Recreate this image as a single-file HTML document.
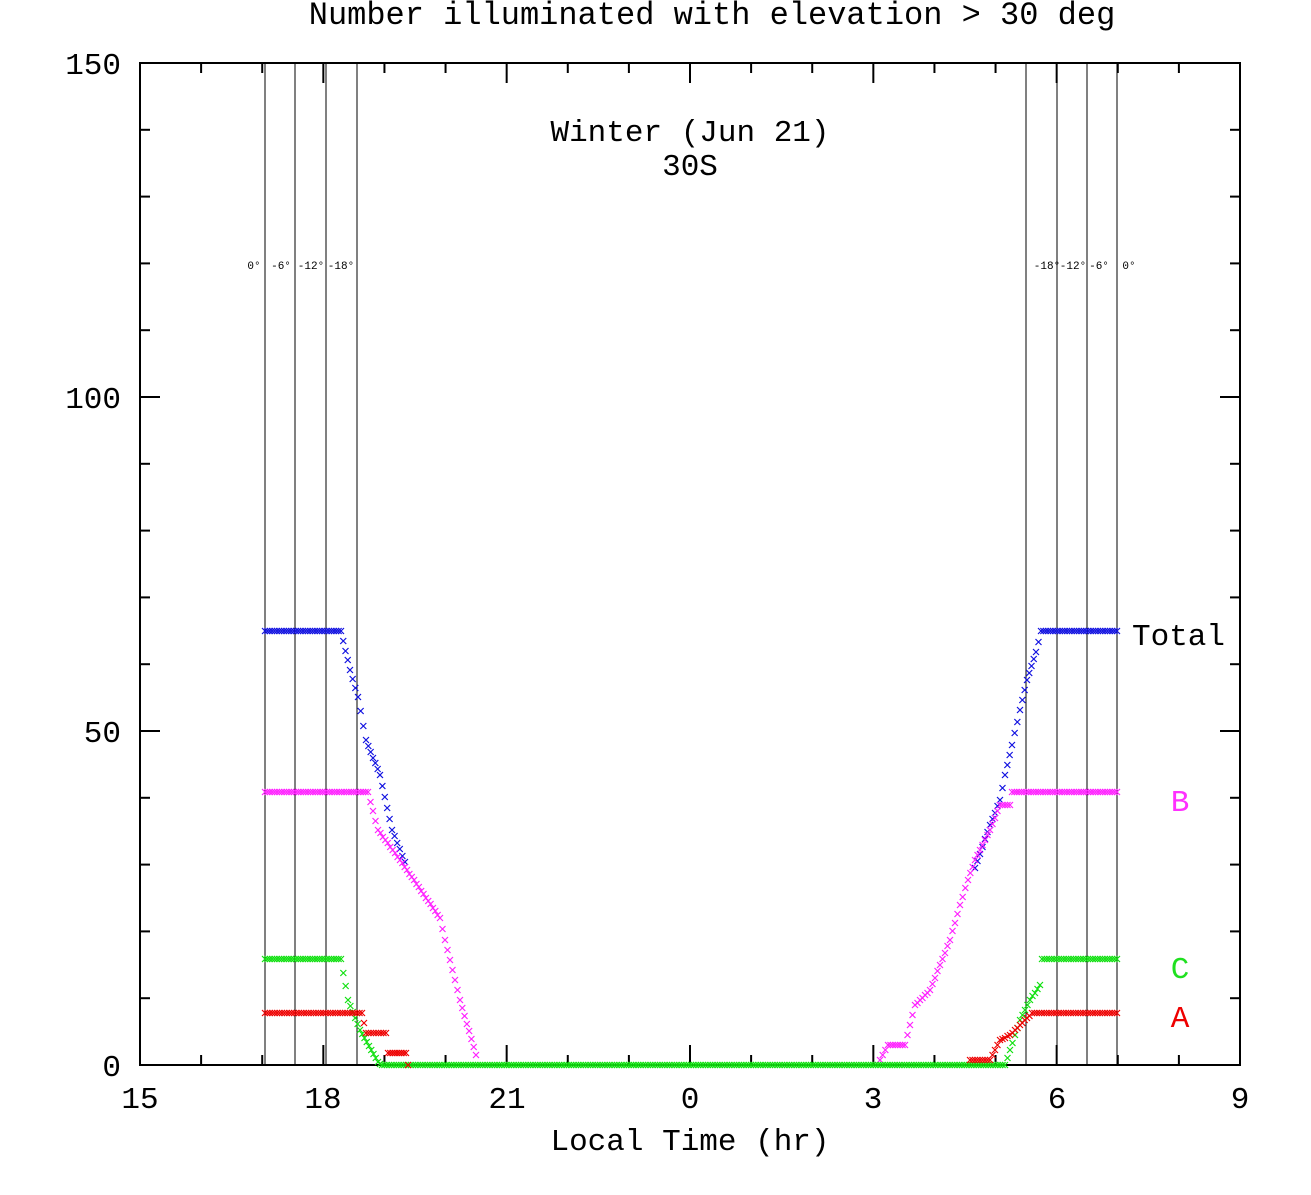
<!DOCTYPE html>
<html><head><meta charset="utf-8"><style>
body{margin:0;background:#fff}
svg{display:block}
text{font-family:"Liberation Mono",monospace}
</style></head><body>
<svg id="s" width="1311" height="1195" xmlns="http://www.w3.org/2000/svg">
<rect x="140" y="63" width="1100" height="1002" fill="none" stroke="#000" stroke-width="2"/>
<g stroke="#000" stroke-width="1">
<line x1="265" y1="63" x2="265" y2="1065"/><line x1="295" y1="63" x2="295" y2="1065"/>
<line x1="326" y1="63" x2="326" y2="1065"/><line x1="357" y1="63" x2="357" y2="1065"/>
<line x1="1026" y1="63" x2="1026" y2="1065"/><line x1="1057" y1="63" x2="1057" y2="1065"/>
<line x1="1087" y1="63" x2="1087" y2="1065"/><line x1="1117" y1="63" x2="1117" y2="1065"/>
</g>
<g id="ticks" stroke="#000" stroke-width="2"></g>
<g font-size="31" text-anchor="middle">
<text x="140" y="1108">15</text><text x="323" y="1108">18</text><text x="507" y="1108">21</text>
<text x="690" y="1108">0</text><text x="873" y="1108">3</text><text x="1057" y="1108">6</text><text x="1240" y="1108">9</text>
</g>
<g font-size="31" text-anchor="end">
<text x="121" y="1076">0</text><text x="121" y="742">50</text><text x="121" y="408">100</text><text x="121" y="74">150</text>
</g>
<text x="690" y="1150" font-size="31" text-anchor="middle">Local Time (hr)</text>
<text x="712" y="24" font-size="32" text-anchor="middle">Number illuminated with elevation &gt; 30 deg</text>
<text x="690" y="141" font-size="31" text-anchor="middle">Winter (Jun 21)</text>
<text x="690" y="175" font-size="31" text-anchor="middle">30S</text>
<g font-size="11" text-anchor="middle">
<text x="254" y="269">0°</text><text x="281" y="269">-6°</text><text x="311" y="269">-12°</text><text x="341" y="269">-18°</text>
<text x="1047" y="269">-18°</text><text x="1073" y="269">-12°</text><text x="1099" y="269">-6°</text><text x="1129" y="269">0°</text>
</g>
<text x="1132" y="645" font-size="31">Total</text>
<text x="1180" y="811" font-size="31" fill="#ff30ff" text-anchor="middle">B</text>
<text x="1180" y="978" font-size="31" fill="#20e020" text-anchor="middle">C</text>
<text x="1180" y="1027" font-size="31" fill="#ee0000" text-anchor="middle">A</text>
<g id="pts" stroke-width="1.2"></g>
</svg>
<script>
var t=document.getElementById('ticks'),h='';
for(var i=0;i<=18;i++){var x=140+i*1100/18,L=(i%3==0)?20:10;
h+='<line x1="'+x+'" y1="1065" x2="'+x+'" y2="'+(1065-L)+'"/><line x1="'+x+'" y1="63" x2="'+x+'" y2="'+(63+L)+'"/>';}
for(var j=0;j<=15;j++){var y=1065-j*1002/15,L=(j%5==0)?20:10;
h+='<line x1="140" y1="'+y+'" x2="'+(140+L)+'" y2="'+y+'"/><line x1="1240" y1="'+y+'" x2="'+(1240-L)+'" y2="'+y+'"/>';}
t.innerHTML=h;
var P=document.getElementById('pts'),o='';
function path(c,pts){
 for(var k=0;k<pts.length-1;k++){var a=pts[k],b=pts[k+1],dx=b[0]-a[0],dy=b[1]-a[1],n=Math.max(1,Math.round(Math.abs(dx)/2.4));
  for(var m=0;m<=n;m++){if(m==n&&k<pts.length-2)continue;var x=a[0]+dx*m/n,y=Math.round(a[1]+dy*m/n);
   o+='<path d="M'+(x-3)+' '+(y-3)+'L'+(x+3)+' '+(y+3)+'M'+(x-3)+' '+(y+3)+'L'+(x+3)+' '+(y-3)+'" stroke="'+c+'"/>';}}
}
var B='#1010e0',M='#ff20ff',G='#10e010',R='#ee0000';
path(B,[[265,631],[341,631],[350,670],[358,697],[366,740],[380,775],[392,830],[405,862]]);
path(B,[[975,868],[990,825],[1000,800],[1005,775],[1012,745],[1020,710],[1027,680],[1036,652],[1041,631],[1117,631]]);
path(M,[[265,792],[368,792],[378,830],[400,860],[440,918],[445,940],[460,1000],[476,1055]]);
path(M,[[880,1060],[888,1045],[905,1045],[915,1005],[930,990],[940,965],[950,940],[960,905],[968,880],[975,860],[990,830],[1000,805],[1010,805],[1012,792],[1117,792]]);
path(G,[[265,959],[341,959],[348,1000],[360,1030],[378,1062],[382,1065],[1005,1065],[1010,1050],[1020,1020],[1030,1000],[1040,985],[1042,959],[1117,959]]);
path(R,[[265,1013],[362,1013],[366,1033],[386,1033],[388,1053],[406,1053],[408,1065]]);
path(R,[[970,1060],[990,1060],[1000,1040],[1010,1035],[1020,1025],[1027,1018],[1032,1013],[1117,1013]]);
P.innerHTML=o;
</script>
</body></html>
